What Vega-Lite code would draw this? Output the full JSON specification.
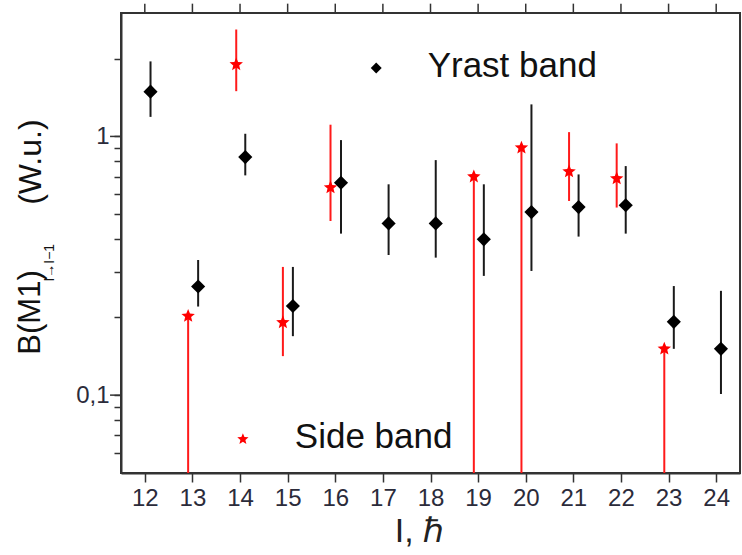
{
  "$schema": "https://vega.github.io/schema/vega-lite/v6.json",
  "width": 619,
  "height": 460,
  "autosize": "none",
  "padding": {"left": 121, "top": 13, "right": 2, "bottom": 82},
  "background": "white",
  "config": {
    "font": "Liberation Sans",
    "view": {"stroke": "#333", "strokeWidth": 2},
    "axis": {"grid": false, "domainColor": "#333", "domainWidth": 2, "tickColor": "#333", "tickWidth": 1.5, "labelColor": "#2b2b3a", "titleColor": "#222", "labelFont": "Liberation Sans", "titleFont": "Liberation Sans", "titleFontWeight": "normal"}
  },
  "datasets": {
    "pts": [
      {"band": "Yrast", "I": 12, "x": 12.12, "B": 1.49, "lo": 1.19, "hi": 1.95},
      {"band": "Yrast", "I": 13, "x": 13.12, "B": 0.263, "lo": 0.22, "hi": 0.333},
      {"band": "Yrast", "I": 14, "x": 14.11, "B": 0.832, "lo": 0.707, "hi": 1.024},
      {"band": "Yrast", "I": 15, "x": 15.11, "B": 0.221, "lo": 0.169, "hi": 0.313},
      {"band": "Yrast", "I": 16, "x": 16.12, "B": 0.662, "lo": 0.421, "hi": 0.968},
      {"band": "Yrast", "I": 17, "x": 17.12, "B": 0.461, "lo": 0.348, "hi": 0.653},
      {"band": "Yrast", "I": 18, "x": 18.11, "B": 0.461, "lo": 0.34, "hi": 0.81},
      {"band": "Yrast", "I": 19, "x": 19.12, "B": 0.4, "lo": 0.289, "hi": 0.653},
      {"band": "Yrast", "I": 20, "x": 20.12, "B": 0.51, "lo": 0.302, "hi": 1.33},
      {"band": "Yrast", "I": 21, "x": 21.11, "B": 0.533, "lo": 0.41, "hi": 0.713},
      {"band": "Yrast", "I": 22, "x": 22.1, "B": 0.542, "lo": 0.421, "hi": 0.768},
      {"band": "Yrast", "I": 23, "x": 23.11, "B": 0.192, "lo": 0.151, "hi": 0.264},
      {"band": "Yrast", "I": 24, "x": 24.1, "B": 0.151, "lo": 0.101, "hi": 0.253},
      {"band": "Side", "I": 13, "x": 12.91, "B": 0.202, "lo": 0.001, "hi": 0.202},
      {"band": "Side", "I": 14, "x": 13.92, "B": 1.897, "lo": 1.496, "hi": 2.59},
      {"band": "Side", "I": 15, "x": 14.9, "B": 0.191, "lo": 0.1415, "hi": 0.313},
      {"band": "Side", "I": 16, "x": 15.9, "B": 0.634, "lo": 0.471, "hi": 1.11},
      {"band": "Side", "I": 19, "x": 18.91, "B": 0.699, "lo": 0.001, "hi": 0.699},
      {"band": "Side", "I": 20, "x": 19.91, "B": 0.904, "lo": 0.001, "hi": 0.904},
      {"band": "Side", "I": 21, "x": 20.91, "B": 0.731, "lo": 0.563, "hi": 1.039},
      {"band": "Side", "I": 22, "x": 21.91, "B": 0.687, "lo": 0.531, "hi": 0.94},
      {"band": "Side", "I": 23, "x": 22.91, "B": 0.151, "lo": 0.001, "hi": 0.151}
    ],
    "ticks": [
      {"I": 12}, {"I": 13}, {"I": 14}, {"I": 15}, {"I": 16}, {"I": 17}, {"I": 18},
      {"I": 19}, {"I": 20}, {"I": 21}, {"I": 22}, {"I": 23}, {"I": 24}
    ],
    "major": [{"v": 1}, {"v": 0.1}],
    "one": [{}]
  },
  "layer": [
    {
      "data": {"name": "pts"},
      "mark": {"type": "rule", "clip": true, "strokeWidth": 2},
      "encoding": {
        "x": {"field": "x", "type": "quantitative", "scale": {"domain": [11.5, 24.5], "nice": false, "zero": false},
          "axis": {"values": [12,13,14,15,16,17,18,19,20,21,22,23,24], "tickSize": 9, "labelFontSize": 24, "labelPadding": 4, "title": "I, ℏ", "titleFontSize": 34, "titlePadding": 4, "titleX": 298}},
        "y": {"field": "lo", "type": "quantitative", "scale": {"type": "log", "domain": [0.05, 3], "nice": false},
          "axis": {"values": [0.06,0.07,0.08,0.09,0.1,0.2,0.3,0.4,0.5,0.6,0.7,0.8,0.9,1,2], "labelExpr": "datum.value == 1 ? '1' : (abs(datum.value - 0.1) < 0.001 ? '0,1' : '')", "tickSize": 7, "labelFontSize": 24, "labelPadding": 5, "title": null}},
        "y2": {"field": "hi"},
        "color": {"field": "band", "type": "nominal", "scale": {"domain": ["Yrast", "Side"], "range": ["#1a1a1a", "#ff1a1a"]}, "legend": null}
      }
    },
    {
      "data": {"name": "pts"},
      "transform": [{"filter": "datum.band == 'Yrast'"}],
      "mark": {"type": "point", "shape": "diamond", "filled": true, "size": 200, "color": "black", "opacity": 1},
      "encoding": {
        "x": {"field": "x", "type": "quantitative"},
        "y": {"field": "B", "type": "quantitative"}
      }
    },
    {
      "data": {"name": "pts"},
      "transform": [{"filter": "datum.band == 'Side'"}],
      "mark": {"type": "point", "shape": "M0,-1L0.26,-0.36L0.951,-0.309L0.42,0.14L0.588,0.809L0,0.44L-0.588,0.809L-0.42,0.14L-0.951,-0.309L-0.26,-0.36Z", "filled": true, "size": 200, "color": "#ff0000", "opacity": 1},
      "encoding": {
        "x": {"field": "x", "type": "quantitative"},
        "y": {"field": "B", "type": "quantitative"}
      }
    },
    {
      "data": {"name": "ticks"},
      "mark": {"type": "rule", "color": "#333", "strokeWidth": 1.5, "clip": false},
      "encoding": {
        "x": {"field": "I", "type": "quantitative"},
        "y": {"datum": 3},
        "y2": {"datum": 3.26}
      }
    },
    {
      "data": {"name": "major"},
      "mark": {"type": "rule", "color": "#333", "strokeWidth": 1.5, "clip": false},
      "encoding": {
        "x": {"datum": 11.27},
        "x2": {"datum": 11.5},
        "y": {"field": "v", "type": "quantitative"}
      }
    },
    {
      "data": {"name": "one"},
      "mark": {"type": "point", "shape": "diamond", "filled": true, "size": 120, "color": "black", "opacity": 1},
      "encoding": {"x": {"datum": 16.86}, "y": {"datum": 1.84}}
    },
    {
      "data": {"name": "one"},
      "mark": {"type": "point", "shape": "M0,-1L0.26,-0.36L0.951,-0.309L0.42,0.14L0.588,0.809L0,0.44L-0.588,0.809L-0.42,0.14L-0.951,-0.309L-0.26,-0.36Z", "filled": true, "size": 140, "color": "#ff0000", "opacity": 1},
      "encoding": {"x": {"datum": 14.06}, "y": {"datum": 0.0676}}
    },
    {
      "data": {"name": "one"},
      "mark": {"type": "text", "align": "left", "baseline": "middle", "fontSize": 35, "color": "#111"},
      "encoding": {"x": {"datum": 17.94}, "y": {"datum": 1.875}, "text": {"value": "Yrast band"}}
    },
    {
      "data": {"name": "one"},
      "mark": {"type": "text", "align": "left", "baseline": "middle", "fontSize": 35, "color": "#111"},
      "encoding": {"x": {"datum": 15.15}, "y": {"datum": 0.0689}, "text": {"value": "Side band"}}
    },
    {
      "data": {"name": "one"},
      "mark": {"type": "text", "align": "left", "baseline": "middle", "angle": 270, "fontSize": 31, "color": "#111"},
      "encoding": {"x": {"datum": 9.61}, "y": {"datum": 0.1434}, "text": {"value": "B(M1)"}}
    },
    {
      "data": {"name": "one"},
      "mark": {"type": "text", "align": "center", "baseline": "middle", "angle": 270, "fontSize": 14, "color": "#111"},
      "encoding": {"x": {"datum": 10.0}, "y": {"datum": 0.3249}, "text": {"value": "I→I−1"}}
    },
    {
      "data": {"name": "one"},
      "mark": {"type": "text", "align": "left", "baseline": "middle", "angle": 270, "fontSize": 32, "color": "#111"},
      "encoding": {"x": {"datum": 9.61}, "y": {"datum": 0.5442}, "text": {"value": "(W.u.)"}}
    }
  ]
}
